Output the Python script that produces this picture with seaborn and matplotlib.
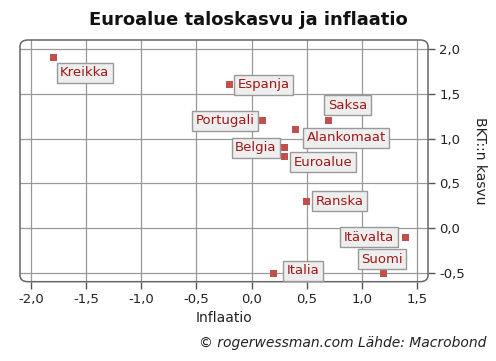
import matplotlib
matplotlib.use("Agg")
import matplotlib.pyplot as plt
import seaborn as sns
import pandas as pd
from matplotlib.patches import FancyBboxPatch
from matplotlib.ticker import FuncFormatter

countries = ["Kreikka", "Espanja", "Saksa", "Portugali", "Alankomaat", "Belgia",
             "Euroalue", "Ranska", "Itävalta", "Suomi", "Italia"]
inflation = [-1.8, -0.2, 0.7, 0.1, 0.4, 0.3, 0.3, 0.5, 1.4, 1.2, 0.2]
gdp_growth = [1.9, 1.6, 1.2, 1.2, 1.1, 0.9, 0.8, 0.3, -0.1, -0.5, -0.5]
x_ticks = [-2.0, -1.5, -1.0, -0.5, 0.0, 0.5, 1.0, 1.5]
y_ticks = [-0.5, 0.0, 0.5, 1.0, 1.5, 2.0]

# label placement (pixel offsets, alignment)
label_pos = {
    "Kreikka": ((7, -15), "left"),
    "Espanja": ((8, 0), "left"),
    "Saksa": ((-1, 15.5), "left"),
    "Portugali": ((-8, 0), "right"),
    "Alankomaat": ((11, -8), "left"),
    "Belgia": ((-8, 0), "right"),
    "Euroalue": ((9, -5.5), "left"),
    "Ranska": ((9, 0), "left"),
    "Itävalta": ((-12, 0), "right"),
    "Suomi": ((-2, 14), "center"),
    "Italia": ((13, 2.5), "left"),
}

df = pd.DataFrame({"Maa": countries, "Inflaatio": inflation, "BKT": gdp_growth})

sns.set_style("white")
plt.rcParams["font.family"] = ["DejaVu Sans"]

fig = plt.figure(figsize=(4.96, 3.61), dpi=100)
ax = fig.add_axes([20 / 496, 1 - 281.7 / 361, (428 - 20) / 496, (281.7 - 40) / 361])

sns.scatterplot(data=df, x="Inflaatio", y="BKT", marker="s", s=26,
                color="#c0504d", edgecolor="none", ax=ax, zorder=5)

ax.set_xlim(-2.1, 1.6)
ax.set_ylim(-0.595, 2.1)
ax.set_xticks(x_ticks)
ax.set_yticks(y_ticks)
fmt = FuncFormatter(lambda v, p: f"{v:.1f}".replace(".", ","))
ax.xaxis.set_major_formatter(fmt)
ax.yaxis.set_major_formatter(fmt)
ax.yaxis.tick_right()
ax.yaxis.set_label_position("right")
ax.tick_params(axis="both", which="both", direction="out", length=5, width=1,
               color="#555555", labelsize=9.5, labelcolor="#222222", pad=3)
ax.tick_params(axis="x", bottom=True, top=False)
ax.tick_params(axis="y", right=True, left=False)
ax.grid(True, color="#999999", linewidth=0.9)
ax.set_axisbelow(True)
for sp in ax.spines.values():
    sp.set_visible(False)

frame = FancyBboxPatch((0, 0), 1, 1, boxstyle="round,pad=0,rounding_size=0.02",
                       transform=ax.transAxes, fill=False, edgecolor="#666666",
                       linewidth=1.1, clip_on=False, zorder=6, mutation_aspect=1.3)
ax.add_patch(frame)

ax.set_xlabel("Inflaatio", fontsize=10, color="#222222", labelpad=4)
ax.set_ylabel("BKT::n kasvu", fontsize=10, color="#222222", rotation=270,
              labelpad=16)

for name, xv, yv in zip(countries, inflation, gdp_growth):
    (dx, dy), ha = label_pos[name]
    ax.annotate(name, (xv, yv), xytext=(dx, dy), textcoords="offset pixels",
                ha=ha, va="center", fontsize=9.5, color="#a01818", zorder=7,
                bbox=dict(boxstyle="square,pad=0.27", fc="#eeeeee", ec="#999999",
                          lw=1))

fig.text(0.5, 1 - 20 / 361, "Euroalue taloskasvu ja inflaatio", ha="center",
         va="center", fontsize=13, fontweight="bold", color="#111111")
fig.text(486 / 496, 1 - 343 / 361, "© rogerwessman.com Lähde: Macrobond",
         ha="right", va="center", fontsize=10, style="italic", color="#222222")

fig.savefig("out.png", dpi=100)
